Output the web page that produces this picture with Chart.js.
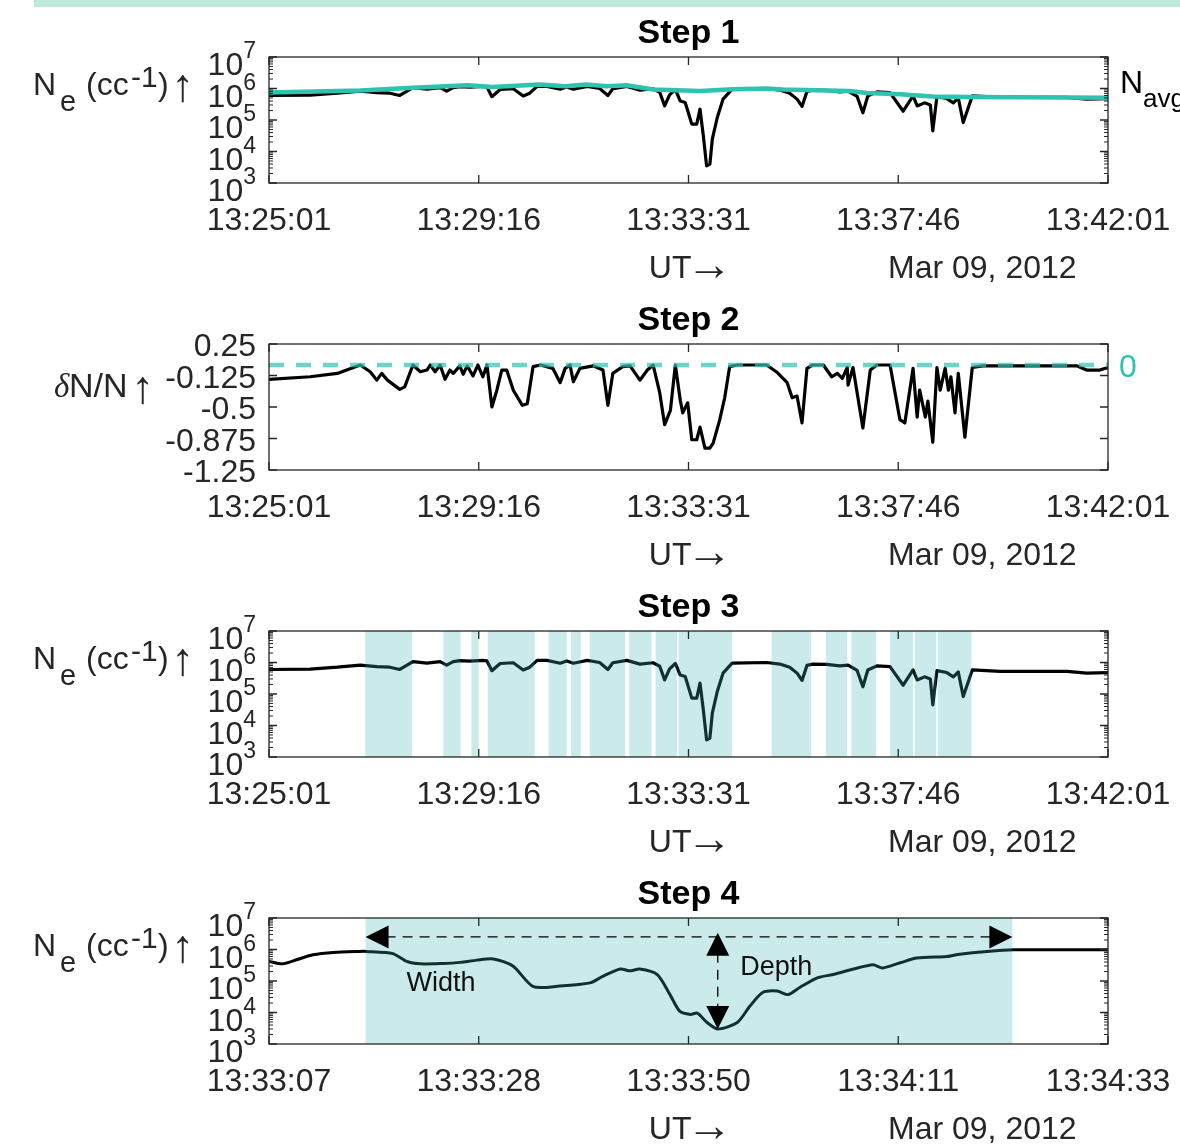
<!DOCTYPE html>
<html>
<head>
<meta charset="utf-8">
<script src="https://cdn.jsdelivr.net/npm/chart.js@4.4.1/dist/chart.umd.min.js"></script>
<style>
  body { margin: 0; background: #fff; }
  #page { position: relative; width: 1180px; height: 1148px; overflow: hidden; }
  #band { position: absolute; left: 34px; top: 0; width: 1146px; height: 7px; background: #bfe9da; }
  canvas { position: absolute; left: 0; }
</style>
</head>
<body>
<div id="page">
  <div id="band"></div>
  <canvas id="step1" width="1180" height="287" style="top:0px"></canvas>
  <canvas id="step2" width="1180" height="287" style="top:287px"></canvas>
  <canvas id="step3" width="1180" height="287" style="top:574px"></canvas>
  <canvas id="step4" width="1180" height="287" style="top:861px"></canvas>
</div>
<script>
'use strict';

// Steps 1-3: seconds after 13:25:01
let neTime = [0, 50, 83, 111, 131, 147, 159, 175, 192, 208, 216, 224, 232, 244, 260, 265, 271, 281, 297, 309,
  317, 326, 338, 354, 362, 370, 387, 402, 412, 418, 435, 451, 467, 475, 481, 487, 494, 500, 506, 514,
  520, 524, 528, 532, 536, 539, 545, 552, 563, 605, 621, 633, 642, 648, 654, 661, 678, 694, 704, 715,
  722, 728, 739, 755, 771, 783, 788, 797, 804, 807, 812, 824, 832, 838, 844, 855, 889, 970, 994, 1020];
let neValues = [6.0e5, 6.2e5, 7.1e5, 8.3e5, 7.4e5, 7.1e5, 6.0e5, 1.07e6, 9.5e5, 1.07e6, 8.3e5, 1.07e6, 1.15e6, 1.1e6, 1.17e6, 1.12e6, 5.5e5, 9.3e5, 9.8e5, 5.8e5,
  7.1e5, 1.17e6, 1.17e6, 9.5e5, 1.12e6, 9.5e5, 1.17e6, 1.0e6, 6.0e5, 9.8e5, 1.17e6, 8.9e5, 9.8e5, 7.6e5, 2.8e5, 6.3e5, 9.3e5, 4.0e5, 3.6e5, 7.4e4,
  7.4e4, 2.2e5, 3.2e4, 3.5e3, 4.0e3, 2.5e4, 1.2e5, 4.6e5, 9.5e5, 1.0e6, 8.9e5, 7.1e5, 4.6e5, 2.7e5, 8.1e5, 8.9e5, 8.7e5, 7.8e5, 8.3e5, 5.6e5,
  1.7e5, 5.8e5, 7.8e5, 7.4e5, 1.9e5, 5.8e5, 2.8e5, 3.5e5, 3.0e5, 4.5e4, 5.5e5, 4.8e5, 3.5e5, 5.0e5, 8.3e4, 5.8e5, 5.2e5, 5.2e5, 4.6e5, 4.8e5];

let avgTime = [0, 111, 175, 241, 272, 329, 360, 386, 410, 435, 467, 524, 564, 605, 625, 678, 706, 727, 767, 807, 856, 1020];
let avgValues = [7.4e5, 8.7e5, 1.05e6, 1.26e6, 1.12e6, 1.35e6, 1.17e6, 1.35e6, 1.17e6, 1.26e6, 9.3e5, 8.3e5, 9.5e5, 1.0e6, 9.3e5, 8.7e5, 8.3e5, 7.2e5, 6.6e5, 5.6e5, 5.4e5, 5.1e5];

let dnTime = [0, 50, 83, 111, 123, 131, 137, 144, 159, 165, 175, 184, 192, 196, 202, 208, 214, 220, 224, 232,
  236, 241, 248, 254, 260, 265, 271, 277, 283, 289, 297, 308, 314, 321, 330, 345, 354, 360, 366, 370,
  378, 394, 406, 412, 418, 430, 439, 451, 460, 467, 475, 481, 488, 494, 500, 503, 509, 514, 520, 524,
  530, 536, 540, 548, 554, 560, 569, 605, 618, 630, 636, 642, 648, 654, 661, 674, 684, 691, 697, 703,
  704, 710, 722, 731, 739, 755, 767, 773, 783, 788, 791, 798, 801, 807, 812, 816, 822, 826, 829, 834,
  838, 846, 855, 868, 982, 994, 1010, 1020];
let dnValues = [-0.17, -0.14, -0.10, 0, -0.08, -0.18, -0.10, -0.18, -0.29, -0.26, 0, -0.08, -0.06, 0, -0.08, 0, -0.17, -0.06, -0.10, -0.01,
  -0.11, -0.01, -0.13, 0, -0.14, 0, -0.50, -0.30, -0.06, -0.06, -0.30, -0.48, -0.46, -0.02, 0, -0.04, -0.21, -0.04, 0, -0.20,
  -0.04, -0.01, -0.06, -0.48, -0.10, -0.02, -0.01, -0.18, -0.06, 0, -0.33, -0.71, -0.54, 0, -0.42, -0.57, -0.45, -0.89, -0.89, -0.74,
  -0.99, -0.99, -0.93, -0.65, -0.39, -0.02, 0, 0, -0.09, -0.21, -0.39, -0.37, -0.69, -0.04, 0, 0, -0.14, -0.10, -0.16, -0.03,
  -0.24, -0.03, -0.75, -0.06, 0, 0, -0.65, -0.69, -0.04, -0.62, -0.30, -0.62, -0.43, -0.92, -0.03, -0.30, -0.04, -0.30, -0.14, -0.57,
  -0.10, -0.86, -0.03, -0.01, -0.01, -0.06, -0.06, -0.03];

let shadeStart = [117, 212, 246, 266, 340, 367, 390, 438, 470, 498, 611, 677, 708, 755, 785, 813];
let shadeEnd = [174, 233, 255, 323, 362, 379, 433, 465, 496, 563, 659, 703, 738, 783, 811, 854];

// Step 4: seconds after 13:33:07
let zoomTime = [0, 1.4, 2.9, 4.5, 6.6, 9.3, 10.0, 12.7, 14.1, 15.5, 17.8, 19.6, 21.3, 23.0, 25.0, 27.1, 29.8, 32.9, 34.2, 36.0,
  37.0, 38.0, 39.8, 41.1, 42.1, 43.2, 43.9, 44.9, 46.0, 48.0, 49.3, 50.6, 52.1, 53.2, 54.4, 56.2, 57.8, 59.9, 61.9, 62.9,
  64.7, 66.4, 69.5, 70.8, 73.6, 76.3, 86];
let zoomValues = [4.2e5, 3.5e5, 4.8e5, 6.8e5, 8.1e5, 8.7e5, 8.7e5, 7.4e5, 4.2e5, 3.5e5, 3.6e5, 3.9e5, 4.6e5, 5.0e5, 3.0e5, 6.6e4, 6.9e4, 8.7e4, 1.4e5, 2.4e5,
  2.1e5, 2.4e5, 1.6e5, 3.7e4, 1.1e4, 8.7e3, 9.5e3, 4.8e3, 3.0e3, 4.8e3, 1.6e4, 4.3e4, 4.8e4, 3.7e4, 6.2e4, 1.26e5, 1.6e5, 2.4e5, 3.3e5, 2.6e5,
  3.8e5, 5.4e5, 6.0e5, 7.1e5, 8.7e5, 9.8e5, 9.8e5];
let zoomShade = [9.9, 76.2];
let widthArrow = [9.9, 76.2, 2.5e6];      // from, to, level
let depthArrow = [46.0, 3.4e6, 3.0e3];    // time, top, bottom

let timeTickValues = [0, 255, 510, 765, 1020];
let timeTickLabels = ['13:25:01', '13:29:16', '13:33:31', '13:37:46', '13:42:01'];
let zoomTickValues = [0, 21.5, 43, 64.5, 86];
let zoomTickLabels = ['13:33:07', '13:33:28', '13:33:50', '13:34:11', '13:34:33'];
let logTicks = [1e3, 1e4, 1e5, 1e6, 1e7];
let dnTicks = [0.25, -0.125, -0.5, -0.875, -1.25];
let dnTickLabels = ['0.25', '-0.125', '-0.5', '-0.875', '-1.25'];
let dateLabel = 'Mar 09, 2012';

const FONT = '"Liberation Sans", Arial, Helvetica, sans-serif';
const TEAL = '#2ec3b0';
const SHADE = 'rgba(58, 182, 176, 0.27)';

let minorTicks = [];
for (let i = 0; i < logTicks.length - 1; i++) {
  for (let m = 2; m < 10; m++) {
    minorTicks.push(m * logTicks[i]);
  }
}

function lineSet(times, values, color, width, dash) {
  return {
    data: times.map((t, i) => ({ x: t, y: values[i] })),
    borderColor: color,
    borderWidth: width,
    borderDash: dash || [],
    pointRadius: 0,
    tension: 0,
    fill: false,
    borderJoinStyle: 'round'
  };
}

function panelOptions(xMax, logY) {
  return {
    responsive: false,
    animation: false,
    devicePixelRatio: 1,
    events: [],
    layout: { padding: { left: 269, right: 72, top: 57, bottom: 104 } },
    plugins: { legend: { display: false }, tooltip: { enabled: false } },
    scales: {
      x: { type: 'linear', min: 0, max: xMax, display: false },
      y: logY
        ? { type: 'logarithmic', min: 1e3, max: 1e7, display: false }
        : { type: 'linear', min: -1.25, max: 0.25, display: false }
    }
  };
}

function drawText(ctx, str, x, y, size, opts) {
  opts = opts || {};
  ctx.font = (opts.style || 'normal') + ' ' + (opts.weight || 'normal') + ' ' + size + 'px ' + (opts.family || FONT);
  ctx.fillStyle = opts.color || '#262626';
  ctx.textAlign = opts.align || 'left';
  ctx.textBaseline = 'alphabetic';
  ctx.fillText(str, x, y);
}

function drawShade(chart, starts, ends) {
  let ctx = chart.ctx, a = chart.chartArea, sx = chart.scales.x;
  ctx.save();
  ctx.fillStyle = SHADE;
  starts.forEach((s, i) => {
    let x0 = sx.getPixelForValue(s), x1 = sx.getPixelForValue(ends[i]);
    ctx.fillRect(x0, a.top, x1 - x0, a.bottom - a.top);
  });
  ctx.restore();
}

function drawBox(chart, xVals, yVals, minors) {
  let ctx = chart.ctx, a = chart.chartArea, sx = chart.scales.x, sy = chart.scales.y;
  ctx.save();
  ctx.strokeStyle = '#262626';
  ctx.lineWidth = 1.3;
  ctx.strokeRect(a.left, a.top, a.right - a.left, a.bottom - a.top);
  ctx.beginPath();
  xVals.forEach(v => {
    let px = sx.getPixelForValue(v);
    ctx.moveTo(px, a.bottom); ctx.lineTo(px, a.bottom - 8);
    ctx.moveTo(px, a.top); ctx.lineTo(px, a.top + 8);
  });
  yVals.forEach(v => {
    let py = sy.getPixelForValue(v);
    ctx.moveTo(a.left, py); ctx.lineTo(a.left + 8, py);
    ctx.moveTo(a.right, py); ctx.lineTo(a.right - 8, py);
  });
  ctx.stroke();
  if (minors) {
    ctx.lineWidth = 1;
    ctx.beginPath();
    minors.forEach(v => {
      let py = sy.getPixelForValue(v);
      ctx.moveTo(a.left, py); ctx.lineTo(a.left + 4, py);
      ctx.moveTo(a.right, py); ctx.lineTo(a.right - 4, py);
    });
    ctx.stroke();
  }
  ctx.restore();
}

function drawXAxisText(chart, title, tickVals, tickLabels) {
  let ctx = chart.ctx, a = chart.chartArea, sx = chart.scales.x;
  let mid = (a.left + a.right) / 2;
  drawText(ctx, title, mid, a.top - 14, 34, { weight: 'bold', align: 'center', color: '#000' });
  tickVals.forEach((v, i) => {
    drawText(ctx, tickLabels[i], sx.getPixelForValue(v), a.bottom + 47, 32, { align: 'center' });
  });
  drawText(ctx, 'UT', mid + 3, a.bottom + 95, 32, { align: 'right' });
  drawText(ctx, '\u2192', mid - 2, a.bottom + 97, 46);
  drawText(ctx, dateLabel, 888, a.bottom + 95, 32);
}

function drawLogLabels(chart) {
  let ctx = chart.ctx, a = chart.chartArea, sy = chart.scales.y;
  logTicks.forEach(v => {
    let py = sy.getPixelForValue(v);
    let exp = String(Math.round(Math.log10(v)));
    ctx.font = '23px ' + FONT;
    let ew = ctx.measureText(exp).width;
    drawText(ctx, exp, a.left - 13, py + 1, 23, { align: 'right' });
    drawText(ctx, '10', a.left - 13 - ew, py + 18, 32, { align: 'right' });
  });
  let b = a.top + 38;
  drawText(ctx, 'N', 33, b, 32);
  drawText(ctx, 'e', 60, b + 16, 29);
  drawText(ctx, '(cc', 86, b, 32);
  drawText(ctx, '-1', 131, b - 8, 30);
  drawText(ctx, ')', 158, b, 32);
  drawText(ctx, '\u2191', 171, b + 6, 46);
}

function arrowHead(ctx, tipX, tipY, dx, dy) {
  // dx, dy: unit direction the arrow points to
  let len = 23, half = 11.5;
  let bx = tipX - dx * len, by = tipY - dy * len;
  ctx.beginPath();
  ctx.moveTo(tipX, tipY);
  ctx.lineTo(bx - dy * half, by + dx * half);
  ctx.lineTo(bx + dy * half, by - dx * half);
  ctx.closePath();
  ctx.fill();
}

function makePanelPlugin(cfg) {
  return {
    id: 'panel' + cfg.title.replace(' ', ''),
    afterDatasetsDraw(chart) {
      if (cfg.draw) {
        cfg.draw(chart);
      }
      drawBox(chart, cfg.xVals, cfg.logY ? logTicks : dnTicks, cfg.logY ? minorTicks : null);
      drawXAxisText(chart, cfg.title, cfg.xVals, cfg.xLabels);
      if (cfg.logY) {
        drawLogLabels(chart);
      }
      if (cfg.labels) {
        cfg.labels(chart);
      }
    }
  };
}

// Step 1
new Chart(document.getElementById('step1').getContext('2d'), {
  type: 'line',
  data: {
    datasets: [
      lineSet(avgTime, avgValues, TEAL, 4.5),
      lineSet(neTime, neValues, '#000', 3.2)
    ]
  },
  options: panelOptions(1020, true),
  plugins: [makePanelPlugin({
    title: 'Step 1', xVals: timeTickValues, xLabels: timeTickLabels, logY: true,
    labels(chart) {
      let a = chart.chartArea;
      drawText(chart.ctx, 'N', a.right + 12, a.top + 36, 32, { color: '#000' });
      drawText(chart.ctx, 'avg', a.right + 35, a.top + 50, 26, { color: '#000' });
    }
  })]
});

// Step 2
new Chart(document.getElementById('step2').getContext('2d'), {
  type: 'line',
  data: {
    datasets: [
      lineSet([0, 1020], [0, 0], 'rgba(46, 195, 176, 0.7)', 4.5, [15, 12]),
      lineSet(dnTime, dnValues, '#000', 3.2)
    ]
  },
  options: panelOptions(1020, false),
  plugins: [makePanelPlugin({
    title: 'Step 2', xVals: timeTickValues, xLabels: timeTickLabels, logY: false,
    labels(chart) {
      let ctx = chart.ctx, a = chart.chartArea, sy = chart.scales.y;
      dnTicks.forEach((v, i) => {
        drawText(ctx, dnTickLabels[i], a.left - 13, sy.getPixelForValue(v) + 12, 32, { align: 'right' });
      });
      drawText(ctx, '0', a.right + 11, sy.getPixelForValue(0) + 12, 32, { color: TEAL });
      let b = a.top + 53;
      drawText(ctx, '\u03b4', 54, b, 33, { style: 'italic', family: '"Liberation Serif", serif' });
      drawText(ctx, 'N/N', 69, b, 34);
      drawText(ctx, '\u2191', 131, b + 6, 46);
    }
  })]
});

// Step 3
new Chart(document.getElementById('step3').getContext('2d'), {
  type: 'line',
  data: {
    datasets: [lineSet(neTime, neValues, '#000', 3.2)]
  },
  options: panelOptions(1020, true),
  plugins: [makePanelPlugin({
    title: 'Step 3', xVals: timeTickValues, xLabels: timeTickLabels, logY: true,
    draw(chart) {
      drawShade(chart, shadeStart, shadeEnd);
    }
  })]
});

// Step 4
new Chart(document.getElementById('step4').getContext('2d'), {
  type: 'line',
  data: {
    datasets: [Object.assign(lineSet(zoomTime, zoomValues, '#000', 3), { tension: 0.25 })]
  },
  options: panelOptions(86, true),
  plugins: [makePanelPlugin({
    title: 'Step 4', xVals: zoomTickValues, xLabels: zoomTickLabels, logY: true,
    draw(chart) {
      let ctx = chart.ctx, sx = chart.scales.x, sy = chart.scales.y;
      drawShade(chart, [zoomShade[0]], [zoomShade[1]]);
      let x0 = sx.getPixelForValue(widthArrow[0]), x1 = sx.getPixelForValue(widthArrow[1]);
      let yw = sy.getPixelForValue(widthArrow[2]);
      let xd = sx.getPixelForValue(depthArrow[0]);
      let y0 = sy.getPixelForValue(depthArrow[1]), y1 = sy.getPixelForValue(depthArrow[2]);
      ctx.save();
      ctx.strokeStyle = '#000';
      ctx.fillStyle = '#000';
      ctx.lineWidth = 1.3;
      ctx.setLineDash([10, 7]);
      ctx.beginPath();
      ctx.moveTo(x0 + 20, yw); ctx.lineTo(x1 - 20, yw);
      ctx.moveTo(xd, y0 + 20); ctx.lineTo(xd, y1 - 20);
      ctx.stroke();
      ctx.setLineDash([]);
      arrowHead(ctx, x0, yw, -1, 0);
      arrowHead(ctx, x1, yw, 1, 0);
      arrowHead(ctx, xd, y0, 0, -1);
      arrowHead(ctx, xd, y1, 0, 1);
      ctx.restore();
      drawText(ctx, 'Width', sx.getPixelForValue(14.1), sy.getPixelForValue(4.7e4), 27, { color: '#111' });
      drawText(ctx, 'Depth', sx.getPixelForValue(48.3), sy.getPixelForValue(1.6e5), 27, { color: '#111' });
    }
  })]
});
</script>
</body>
</html>
